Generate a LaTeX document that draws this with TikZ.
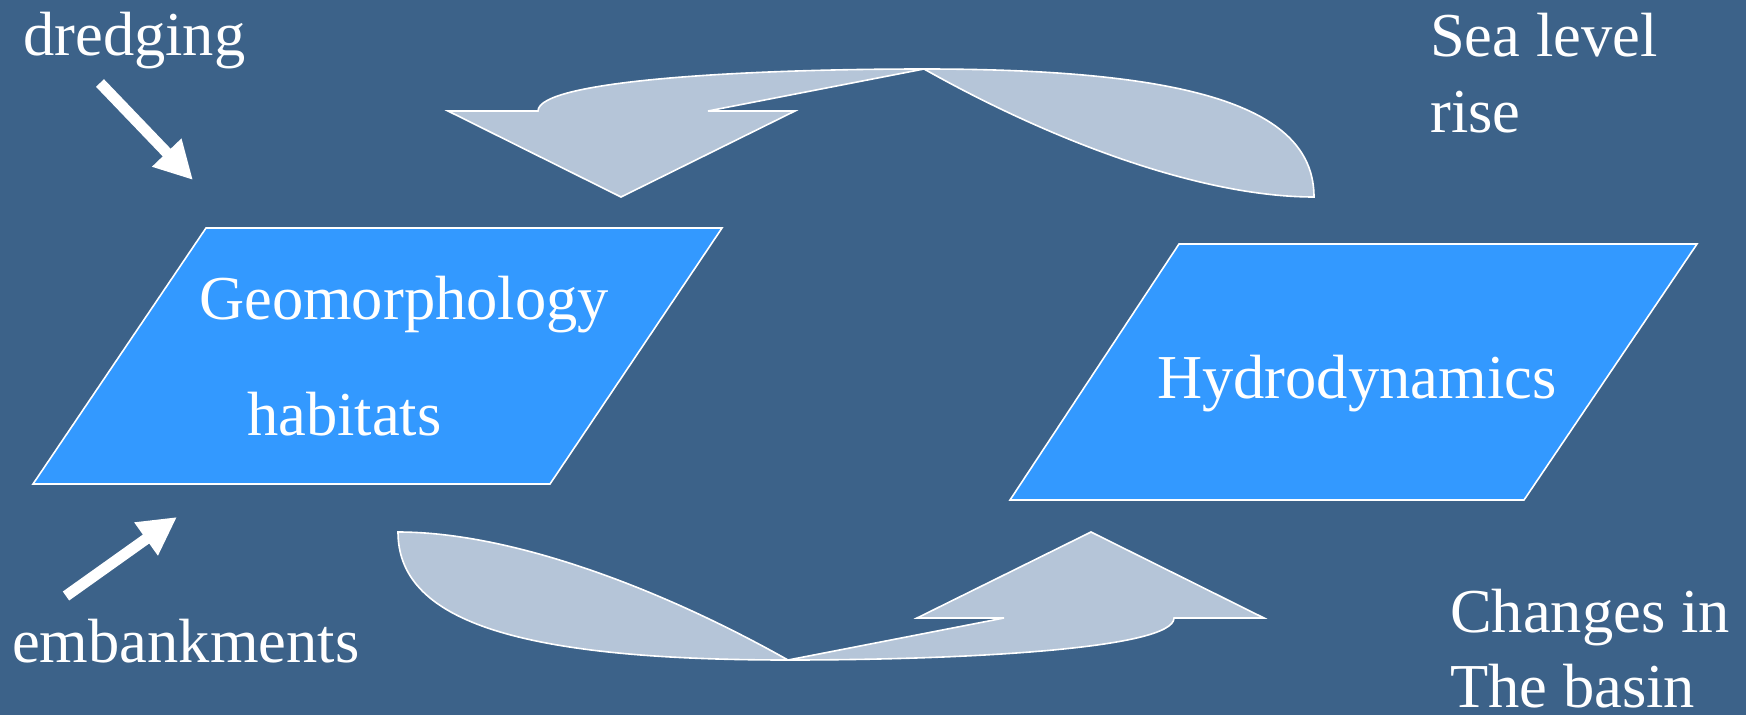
\documentclass[tikz,border=0pt]{standalone}
\usepackage{fontspec}
\setmainfont{Liberation Serif}
\usetikzlibrary{arrows.meta}
\definecolor{bg}{RGB}{60,98,137}
\definecolor{boxblue}{RGB}{51,153,255}
\definecolor{arrowfill}{RGB}{181,197,216}
\begin{document}
\begin{tikzpicture}[x=1pt,y=-1pt,
  lbl/.style={text=white,font=\fontsize{62.5}{75}\selectfont,anchor=base west,inner sep=0pt},
  para/.style={fill=boxblue,draw=white,line width=1.6pt,line join=miter},
  bendarrow/.style={fill=arrowfill,draw=white,line width=1.6pt,line join=miter},
  push/.style={draw=white,line width=11pt,-{Triangle[length=38pt,width=38pt]}}]
\fill[bg] (0,0) rectangle (1746,715);
\useasboundingbox (0,0) rectangle (1746,715);

% parallelogram boxes
\draw[para] (206,228) -- (722,228) -- (550,484) -- (33,484) -- cycle;
\draw[para] (1179,244) -- (1697,244) -- (1524,500) -- (1010,500) -- cycle;

% top curved arrow
\draw[bendarrow] (538,111) .. controls (538,80) and (750,69) .. (924,69)
  .. controls (1200,69) and (1314,110) .. (1314,197)
  .. controls (1200,197) and (1050,140) .. (924,69)
  -- (708,111) -- (795,111) -- (621,197) -- (448,111) -- cycle;

% bottom curved arrow (point reflection of the top one)
\begin{scope}[rotate around={180:(856,364.5)}]
\draw[bendarrow] (538,111) .. controls (538,80) and (750,69) .. (924,69)
  .. controls (1200,69) and (1314,110) .. (1314,197)
  .. controls (1200,197) and (1050,140) .. (924,69)
  -- (708,111) -- (795,111) -- (621,197) -- (448,111) -- cycle;
\end{scope}

% labels
\node[lbl] (geo) at (199,319) {Geomorphology};
\node[lbl] (hab) at (247,435) {habitats};
\node[lbl] (hyd) at (1157,398) {Hydrodynamics};
\node[lbl] (dredge) at (23,55) {dredging};
\node[lbl] (sea) at (1430,56) {Sea level};
\node[lbl] (rise) at (1430,132) {rise};
\node[lbl] (chg) at (1450,632) {Changes in};
\node[lbl] (basin) at (1450,707) {The basin};
\node[lbl] (emb) at (12,662) {embankments};

% white pointer arrows
\coordinate (dA) at (100,83);
\coordinate (dB) at (193,180);
\draw[push] (dA) -- (dB);
\coordinate (eA) at (66,596);
\coordinate (eB) at (177,517);
\draw[push] (eA) -- (eB);
\end{tikzpicture}
\end{document}
